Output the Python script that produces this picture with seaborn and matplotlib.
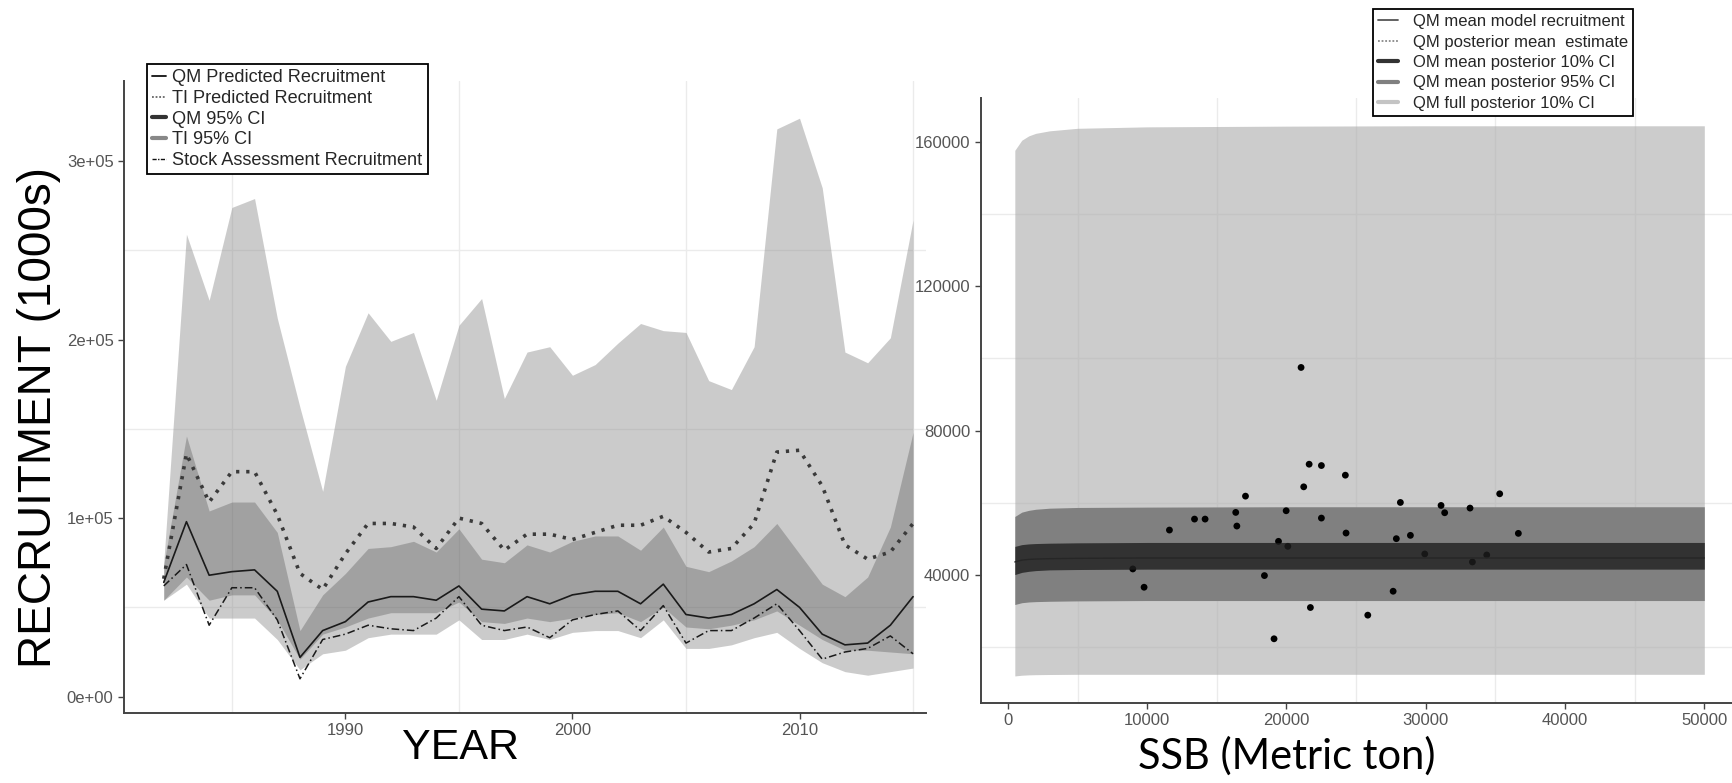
import matplotlib
matplotlib.use("Agg")
import matplotlib.pyplot as plt
from matplotlib.lines import Line2D
import seaborn as sns

# ---- left panel data (recruitment, 1000s of fish) ----
years = list(range(1982, 2016))
ti_hi = [75000, 259000, 222000, 274000, 279000, 212000, 162000, 115000, 185000, 215000,
         199000, 204000, 166000, 208000, 223000, 167000, 193000, 196000, 180000, 186000,
         198000, 209000, 205000, 204000, 177000, 172000, 196000, 318000, 324000, 285000,
         193000, 187000, 201000, 267000]
ti_lo = [54000, 63000, 44000, 44000, 44000, 32000, 15000, 24000, 26000, 33000,
         35000, 35000, 35000, 43000, 32000, 32000, 35000, 32000, 36000, 37000,
         37000, 33000, 43000, 27000, 27000, 29000, 33000, 36000, 27000, 19000,
         14000, 12000, 14000, 16000]
qm_hi = [74000, 146000, 104000, 109000, 109000, 92000, 37000, 57000, 69000, 83000,
         84000, 87000, 81000, 94000, 77000, 75000, 85000, 81000, 87000, 90000,
         90000, 82000, 95000, 73000, 70000, 76000, 84000, 97000, 80000, 63000,
         56000, 67000, 95000, 148000]
qm_lo = [54000, 67000, 54000, 57000, 57000, 43000, 21000, 35000, 39000, 44000,
         47000, 47000, 47000, 53000, 42000, 41000, 44000, 42000, 44000, 46000,
         47000, 42000, 50000, 39000, 38000, 40000, 43000, 48000, 40000, 32000,
         26000, 26000, 25000, 24000]
qm_pred = [64000, 98000, 68000, 70000, 71000, 59000, 22000, 37000, 42000, 53000,
           56000, 56000, 54000, 62000, 49000, 48000, 56000, 52000, 57000, 59000,
           59000, 52000, 63000, 46000, 44000, 46000, 52000, 60000, 50000, 35000,
           29000, 30000, 40000, 56000]
ti_pred = [66000, 136000, 109000, 126000, 126000, 102000, 69000, 60000, 80000, 97000,
           97000, 95000, 83000, 100000, 97000, 82000, 91000, 91000, 88000, 92000,
           96000, 96000, 101000, 92000, 81000, 83000, 97000, 137000, 138000, 118000,
           85000, 77000, 81000, 97000]
sa_rec = [62000, 74000, 40000, 61000, 61000, 43000, 10000, 32000, 35000, 40000,
          38000, 37000, 44000, 56000, 40000, 37000, 39000, 33000, 43000, 46000,
          48000, 37000, 51000, 30000, 37000, 37000, 44000, 52000, 37000, 21000,
          25000, 27000, 34000, 24000]

# ---- right panel data (SSB vs recruitment) ----
ssb_curve = [500, 1000, 1500, 2000, 3000, 5000, 10000, 20000, 30000, 40000, 50000]
full_hi = [157700, 160500, 161700, 162400, 163100, 163800, 164200, 164400, 164500, 164500, 164500]
full_lo = [12000, 12200, 12300, 12350, 12400, 12450, 12450, 12450, 12450, 12450, 12450]
m95_hi = [56200, 57400, 57900, 58200, 58500, 58700, 58800, 58900, 58900, 58900, 58900]
m95_lo = [31800, 32300, 32500, 32600, 32700, 32800, 32900, 32900, 32900, 32900, 32900]
m10_hi = [47900, 48400, 48600, 48700, 48800, 48900, 49000, 49000, 49000, 49000, 49000]
m10_lo = [40100, 40700, 41000, 41200, 41400, 41500, 41600, 41600, 41600, 41600, 41600]
mean_rec = [43600, 44100, 44300, 44400, 44500, 44600, 44700, 44700, 44700, 44700, 44700]

obs_ssb = [8970, 9780, 11600, 13400, 14160, 16360, 16440, 17060, 18420, 19110,
           19430, 19980, 20100, 21050, 21240, 21630, 21720, 22510, 22510, 24230,
           24280, 25840, 27660, 27890, 28180, 28900, 29930, 31100, 31360, 33180,
           33350, 34380, 35310, 36650]
obs_rec = [41660, 36590, 52440, 55480, 55480, 57330, 53550, 61840, 39820, 22300,
           49310, 57790, 47930, 97510, 64420, 70690, 30970, 70320, 55760, 67650,
           51610, 28850, 35480, 50050, 60090, 50970, 45810, 59260, 57240, 58530,
           43590, 45530, 62490, 51520]

sns.set_theme(style="white")
plt.rcParams['font.family'] = ['Liberation Sans', 'DejaVu Sans']

W, H = 1733, 783
fig = plt.figure(figsize=(W / 100, H / 100), dpi=100)
ax1 = fig.add_axes([124 / W, 1 - 712.7 / H, 802 / W, 632 / H])
ax2 = fig.add_axes([980.7 / W, 1 - 703 / H, (W - 980.7) / W, 605 / H])

tick_col = "#555555"
grid_col = "#ebebeb"


def style_axes(ax):
    for s in ["top", "right"]:
        ax.spines[s].set_visible(False)
    for s in ["left", "bottom"]:
        ax.spines[s].set_color("#444444")
        ax.spines[s].set_linewidth(1.4)
    ax.tick_params(axis="both", length=4, width=1, color="#444444",
                   labelsize=12, labelcolor=tick_col, left=True, bottom=True)
    ax.set_xlabel("")
    ax.set_ylabel("")
    ax.set_axisbelow(True)


# ---------------- left panel ----------------
for v in [1985, 1995, 2005, 2015]:
    ax1.axvline(v, color=grid_col, lw=1, zorder=0)
for v in [50000, 150000, 250000]:
    ax1.axhline(v, color=grid_col, lw=1, zorder=0)

ax1.fill_between(years, ti_lo, ti_hi, color="#888888", alpha=0.43, lw=0, zorder=1)
ax1.fill_between(years, qm_lo, qm_hi, color="#333333", alpha=0.27, lw=0, zorder=2)
sns.lineplot(x=years, y=ti_pred, ax=ax1, color="#3a3a3a", lw=2.6,
             linestyle=(0, (0.9, 1.9)), dash_capstyle="butt", zorder=4)
sns.lineplot(x=years, y=qm_pred, ax=ax1, color="#1a1a1a", lw=1.2, zorder=5)
sns.lineplot(x=years, y=sa_rec, ax=ax1, color="#1a1a1a", lw=1.1,
             linestyle=(0, (5, 2, 1, 2)), zorder=5)

ax1.set_xlim(1980.25, 2015.57)
ax1.set_ylim(-9000, 345000)
ax1.set_xticks([1990, 2000, 2010])
ax1.set_yticks([0, 100000, 200000, 300000])
ax1.set_yticklabels(["0e+00", "1e+05", "2e+05", "3e+05"])
style_axes(ax1)

h_left = [
    Line2D([], [], color="#111111", lw=1.3),
    Line2D([], [], color="#666666", lw=1.3, linestyle=(0, (1, 1))),
    Line2D([], [], color="#333333", lw=3),
    Line2D([], [], color="#888888", lw=3),
    Line2D([], [], color="#111111", lw=1.0, linestyle=(0, (3, 1, 1, 1))),
]
l_left = ["QM Predicted Recruitment", "TI Predicted Recruitment", "QM 95% CI",
          "TI 95% CI", "Stock Assessment Recruitment"]
leg1 = fig.legend(h_left, l_left, loc="upper left", bbox_to_anchor=(147 / W, 1 - 64 / H),
                  borderaxespad=0, fontsize=13.1, handlelength=0.75, handletextpad=0.35,
                  labelspacing=0.2, borderpad=0.3, fancybox=False, framealpha=1,
                  edgecolor="black")
leg1.get_frame().set_linewidth(1.3)

# ---------------- right panel ----------------
for v in [5000, 15000, 25000, 35000, 45000]:
    ax2.axvline(v, color=grid_col, lw=1, zorder=0)
for v in [20000, 60000, 100000, 140000]:
    ax2.axhline(v, color=grid_col, lw=1, zorder=0)

ax2.fill_between(ssb_curve, full_lo, full_hi, color="#aaaaaa", alpha=0.6, lw=0, zorder=1)
ax2.fill_between(ssb_curve, m95_lo, m95_hi, color="#808080", lw=0, zorder=2)
sns.scatterplot(x=obs_ssb, y=obs_rec, ax=ax2, color="black", s=24, edgecolor="none", zorder=3)
ax2.fill_between(ssb_curve, m10_lo, m10_hi, color="#1e1e1e", alpha=0.79, lw=0, zorder=4)
sns.lineplot(x=ssb_curve, y=mean_rec, ax=ax2, color="#262626", lw=1.0, zorder=5)

ax2.set_xlim(-1950, 52060)
ax2.set_ylim(4500, 172200)
ax2.set_xticks([0, 10000, 20000, 30000, 40000, 50000])
ax2.set_yticks([40000, 80000, 120000, 160000])
ax2.set_xticklabels(["0", "10000", "20000", "30000", "40000", "50000"])
ax2.set_yticklabels(["40000", "80000", "120000", "160000"])
style_axes(ax2)

h_right = [
    Line2D([], [], color="#555555", lw=1.3),
    Line2D([], [], color="#888888", lw=1.3, linestyle=(0, (1, 1))),
    Line2D([], [], color="#333333", lw=3),
    Line2D([], [], color="#808080", lw=3),
    Line2D([], [], color="#c4c4c4", lw=3),
]
l_right = ["QM mean model recruitment", "QM posterior mean  estimate",
           "OM mean posterior 10% CI", "QM mean posterior 95% CI", "QM full posterior 10% CI"]
leg2 = fig.legend(h_right, l_right, loc="upper left", bbox_to_anchor=(1373 / W, 1 - 9 / H),
                  borderaxespad=0, fontsize=12, handlelength=1.2, handletextpad=0.9,
                  labelspacing=0.33, borderpad=0.3, fancybox=False, framealpha=1,
                  edgecolor="black")
leg2.get_frame().set_linewidth(1.3)

# ---------------- axis titles ----------------
fig.text(39 / W, 1 - 417 / H, "RECRUITMENT (1000s)", rotation=90, ha="center", va="center",
         fontsize=33, color="black")
fig.text(461 / W, 1 - 748 / H, "YEAR", ha="center", va="center",
         fontsize=31, color="black")
fig.text(1287 / W, 1 - 756 / H, "SSB (Metric ton)", ha="center", va="center",
         fontsize=30, family=["Lato", "DejaVu Sans"], color="black")

fig.savefig("out.png", dpi=100)
